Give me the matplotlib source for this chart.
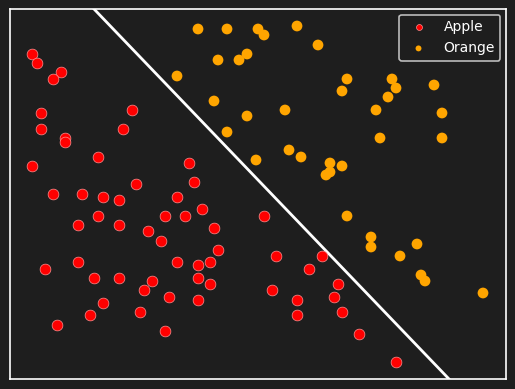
import numpy as np
import matplotlib
matplotlib.use('Agg')
import matplotlib.pyplot as plt

apple_x = [32, 37, 61, 53, 41, 132, 41, 123, 65, 65, 98, 32, 189, 194, 136,
           53, 82, 103, 119, 177, 202, 98, 165, 185, 78, 119, 214, 148, 161,
           218, 177, 198, 210, 78, 45, 94, 119, 152, 198, 144, 210, 169, 198,
           103, 140, 90, 57, 165, 264, 276, 322, 309, 338, 272, 297, 334, 297,
           342, 359, 396]
apple_y = [54, 63, 72, 79, 113, 110, 129, 129, 138, 142, 157, 166, 163, 182,
           184, 194, 194, 197, 200, 197, 209, 216, 216, 216, 225, 225, 228,
           231, 241, 250, 262, 265, 262, 262, 269, 278, 278, 281, 278, 290,
           284, 297, 300, 303, 312, 315, 325, 331, 216, 256, 256, 269, 284,
           290, 300, 297, 315, 312, 334, 362]

orange_x = [198, 227, 258, 247, 239, 218, 177, 214, 247, 227, 256, 264, 297,
            318, 347, 342, 392, 396, 388, 434, 285, 376, 442, 380, 442, 289,
            301, 330, 342, 330, 326, 347, 371, 371, 417, 400, 421, 425, 483]
orange_y = [29, 29, 29, 54, 60, 60, 76, 101, 116, 132, 160, 35, 26, 45, 79,
            91, 79, 88, 97, 85, 110, 110, 113, 138, 138, 150, 157, 163, 166,
            172, 175, 216, 237, 247, 244, 256, 275, 281, 293]

boundary_x = [94, 449]
boundary_y = [9, 379]

H = 389
apple_y = [H - v for v in apple_y]
orange_y = [H - v for v in orange_y]
boundary_y = [H - v for v in boundary_y]

bg = '#1e1e1e'
fig = plt.figure(figsize=(5.15, 3.89), dpi=100, facecolor=bg)
ax = fig.add_axes([10 / 515, 10 / 389, 496 / 515, 370 / 389], facecolor=bg)

ax.scatter(apple_x, apple_y, s=60, c='red', edgecolors='#ff9090',
           linewidths=0.5, label='Apple', zorder=3)
ax.scatter(orange_x, orange_y, s=60, c='orange', edgecolors='none',
           label='Orange', zorder=3)
ax.plot(boundary_x, boundary_y, color='white', lw=2, zorder=2)

ax.set_xlim(10, 506)
ax.set_ylim(H - 379, H - 9)
ax.set_xticks([])
ax.set_yticks([])
for sp in ax.spines.values():
    sp.set_color('white')
    sp.set_linewidth(1.2)

leg = ax.legend(loc='upper right', markerscale=0.55, facecolor=bg,
                edgecolor='#bbbbbb', labelcolor='white', framealpha=1,
                fontsize=10, borderaxespad=0.4)
leg.get_frame().set_linewidth(1.2)

fig.savefig('out.png', dpi=100, facecolor=bg)
